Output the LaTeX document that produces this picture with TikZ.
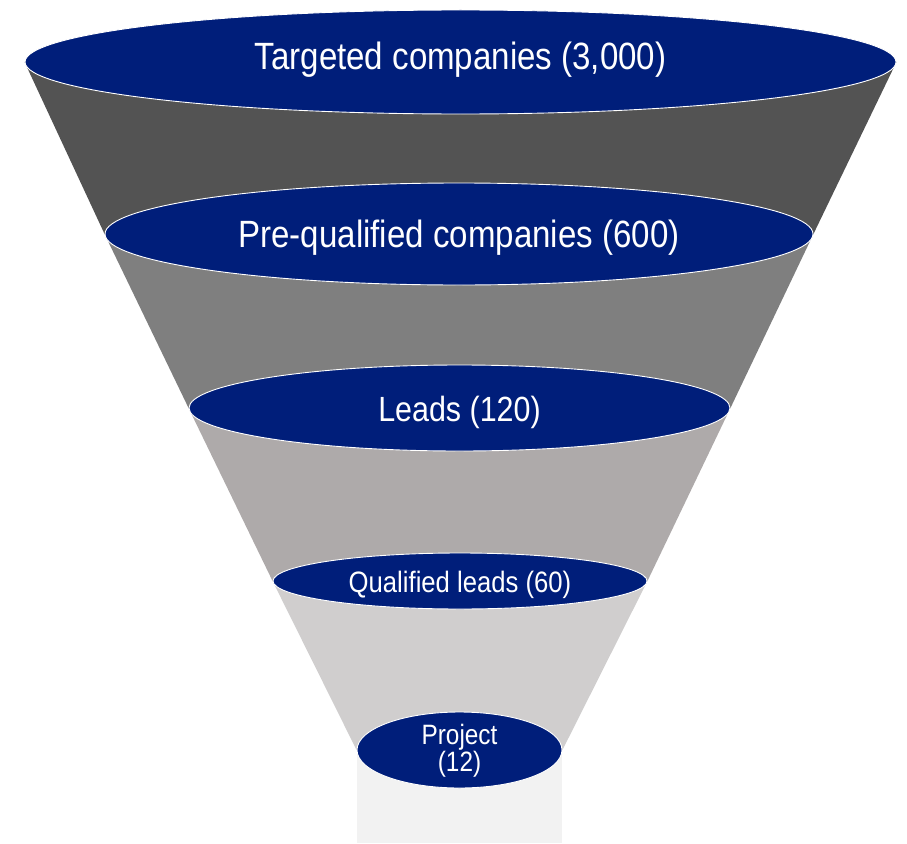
\documentclass[tikz,border=0pt]{standalone}
\usepackage{fontspec}
\setmainfont{Liberation Sans}[FakeStretch=0.87]
\usetikzlibrary{shapes.geometric,backgrounds}

\definecolor{funnelblue}{RGB}{0,30,122}
\definecolor{band1}{RGB}{83,83,83}
\definecolor{band2}{RGB}{127,127,127}
\definecolor{band3}{RGB}{174,170,170}
\definecolor{band4}{RGB}{208,206,206}
\definecolor{band5}{RGB}{242,242,242}

\begin{document}
\begin{tikzpicture}[
		x=1pt, y=-1pt,
		stage/.style     = {ellipse, fill=funnelblue, draw=white, line width=0.9pt, inner sep=0pt},
		stagetext/.style = {text=white, align=center, inner sep=0pt},
		big/.style       = {stagetext, font=\fontsize{38}{45}\selectfont},
		mid/.style       = {stagetext, font=\fontsize{35}{42}\selectfont},
		small/.style     = {stagetext, font=\fontsize{29.5}{35}\selectfont},
		tiny/.style      = {stagetext, font=\fontsize{28}{27}\selectfont}]
		
		\useasboundingbox (0,0) rectangle (907,843);
		
		% funnel rings
		\node[stage, minimum width=871pt, minimum height=104pt] (targeted) at (460.5,62) {};
		\node[stage, minimum width=708pt, minimum height=102pt] (prequal) at (459,234) {};
		\node[stage, minimum width=541pt, minimum height=86pt] (leads) at (459.5,408) {};
		\node[stage, minimum width=374pt, minimum height=56pt] (qualified) at (460,581) {};
		\node[stage, minimum width=205pt, minimum height=76pt] (project) at (459.5,750) {};
		\coordinate (base) at (459.5,843);
		
		\node[big] at ([yshift=2pt]targeted) {Targeted companies (3,000)};
		\node[big] at ([yshift=-4pt]prequal) {Pre-qualified companies (600)};
		\node[mid] at ([yshift=-4pt]leads) {Leads (120)};
		\node[small] at ([yshift=-4pt]qualified) {Qualified leads (60)};
		\node[tiny] at ([yshift=-1pt]project) {Project\\(12)};
		
		% bands between the rings
		\begin{scope}[on background layer]
			\foreach \top/\bot/\col in {targeted/prequal/band1, prequal/leads/band2,
				leads/qualified/band3, qualified/project/band4}
			\fill[\col] (\top.west) -- (\bot.west) -- (\bot.east) -- (\top.east) -- cycle;
			
			\fill[band5] (project.west) rectangle (project.east |- base);
		\end{scope}
	\end{tikzpicture}
\end{document}
